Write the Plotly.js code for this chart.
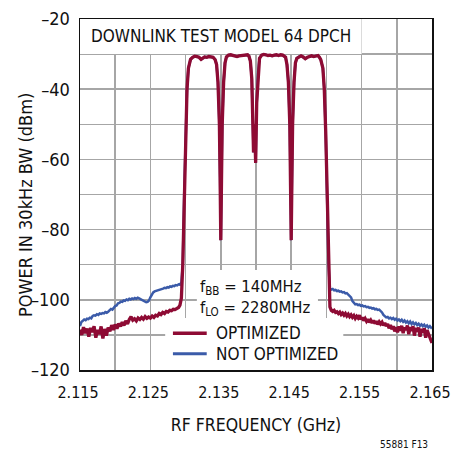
<!DOCTYPE html>
<html>
<head>
<meta charset="utf-8">
<script src="https://cdn.plot.ly/plotly-3.0.1.min.js"></script>
<style>
html,body{margin:0;padding:0;background:#fff;}
#chart{width:451px;height:452px;}
</style>
</head>
<body>
<div id="chart"></div>
<script>
// ---- Data (GHz, dBm) ----
const carrierFreq = [2.1296,2.1298,2.1300,2.1302,2.1304,2.1307,2.1310,2.1313,2.1316,2.1319,2.1322,2.1324,2.1327,2.1330,2.1333,2.1336,2.1339,2.1342,2.1344,2.1346,2.1348,2.1349,2.1350,2.1351,2.1352,2.1354,2.1356,2.1358,2.1361,2.1364,2.1367,2.1370,2.1373,2.1376,2.1379,2.1382,2.1385,2.1388,2.1390,2.1392,2.1394,2.13955,2.13965,2.1398,2.13995,2.1401,2.1403,2.1405,2.1408,2.1411,2.1414,2.1417,2.1420,2.1423,2.1426,2.1429,2.1432,2.1435,2.1438,2.1442,2.1444,2.1446,2.1448,2.1449,2.1450,2.1451,2.1452,2.1454,2.1456,2.1458,2.1461,2.1464,2.1467,2.1470,2.1473,2.1476,2.1479,2.1482,2.1485,2.1488,2.1490,2.1492,2.1495,2.1497,2.1499,2.1501,2.1503];
const carrierDbm = [-90,-70,-52,-40,-34,-31.5,-30.9,-30.6,-30.7,-30.9,-31.5,-31.2,-30.8,-30.9,-30.7,-30.8,-30.9,-31.6,-33,-38,-50,-65,-83,-66,-50,-38,-32.5,-30.8,-30.3,-30.2,-30.4,-30.6,-30.7,-30.5,-30.4,-30.3,-30.1,-30.2,-30.6,-32,-37,-46,-58,-50,-61,-44,-35,-31.2,-30.3,-30.1,-30.2,-30.4,-30.3,-30.5,-30.3,-30.2,-30.4,-30.2,-30.3,-30.9,-33,-38,-50,-65,-83,-66,-50,-38,-32.5,-31.2,-30.7,-30.5,-30.8,-31.3,-30.9,-30.6,-30.5,-30.7,-30.6,-30.4,-30.9,-31.6,-34,-40,-52,-70,-90];

const optLeftFreq = [2.1150,2.11525,2.1155,2.11575,2.1160,2.11625,2.1165,2.11675,2.1170,2.11725,2.1175,2.11775,2.1180,2.11825,2.1185,2.11875,2.1190,2.11925,2.1195,2.11975,2.1200,2.12025,2.1205,2.12075,2.1210,2.12125,2.1215,2.12175,2.1220,2.12225,2.1225,2.12275,2.1230,2.12325,2.1235,2.12375,2.1240,2.12425,2.1245,2.12475,2.1250,2.12525,2.1255,2.12575,2.1260,2.12625,2.1265,2.12675,2.1270,2.12725,2.1275,2.12775,2.1280,2.12825,2.1285,2.12875,2.1290,2.1292,2.1294];
const optLeftDbm = [-108.5,-110.0,-107.8,-109.5,-108.2,-110.5,-108.0,-109.2,-107.5,-110.8,-108.6,-109.8,-107.6,-111.0,-108.3,-110.2,-107.9,-109.0,-107.2,-108.6,-107.0,-108.2,-106.8,-107.6,-106.4,-107.3,-106.0,-106.9,-105.6,-104.8,-105.8,-105.4,-106.0,-105.2,-105.6,-105.0,-105.5,-104.8,-105.3,-104.9,-105.2,-104.6,-105.0,-104.4,-104.6,-103.9,-104.2,-103.6,-103.9,-103.3,-103.5,-103.0,-103.1,-102.7,-102.8,-102.4,-102.2,-101.5,-99.5];

const optRightFreq = [2.1505,2.1507,2.1509,2.1511,2.1513,2.1515,2.1517,2.1519,2.1521,2.1523,2.1525,2.1527,2.1529,2.1531,2.1533,2.1535,2.1537,2.1539,2.1541,2.1543,2.1545,2.1547,2.1549,2.1551,2.1553,2.1555,2.1557,2.1559,2.1561,2.1563,2.1565,2.1567,2.1569,2.1571,2.1573,2.1575,2.1577,2.1579,2.1581,2.1583,2.1585,2.1587,2.1589,2.1591,2.1593,2.1595,2.1597,2.1599,2.1601,2.1603,2.1605,2.1607,2.1609,2.1611,2.1613,2.1615,2.1617,2.1619,2.1621,2.1623,2.1625,2.1627,2.1629,2.1631,2.1633,2.1635,2.1637,2.1639,2.1641,2.1643,2.1645,2.1647,2.1649,2.1650];
const optRightDbm = [-102.0,-103.0,-103.3,-103.0,-103.6,-103.4,-103.9,-103.5,-104.2,-103.8,-104.4,-103.9,-104.6,-104.1,-104.8,-104.3,-105.0,-104.5,-105.3,-104.7,-105.2,-104.4,-105.6,-105.0,-105.9,-105.3,-106.1,-105.5,-106.4,-105.8,-106.6,-105.9,-106.8,-106.1,-107.0,-106.3,-106.9,-106.4,-107.3,-106.6,-107.5,-106.9,-108.1,-107.2,-108.4,-107.5,-109.0,-107.8,-109.3,-107.6,-108.8,-107.4,-109.5,-107.9,-108.6,-107.3,-109.8,-107.8,-108.9,-107.5,-110.2,-108.0,-109.1,-107.9,-110.5,-108.3,-109.4,-108.1,-110.8,-108.6,-109.9,-110.6,-111.8,-112.3];

const notOptLeftFreq = [2.1150,2.1152,2.1154,2.1156,2.1158,2.1160,2.1162,2.1164,2.1166,2.1168,2.1170,2.1172,2.1174,2.1176,2.1178,2.1180,2.1182,2.1184,2.1186,2.1188,2.1190,2.1192,2.1194,2.1196,2.1198,2.1200,2.1202,2.1204,2.1206,2.1208,2.1210,2.1212,2.1214,2.1216,2.1218,2.1220,2.1222,2.1224,2.1226,2.1228,2.1230,2.1232,2.1234,2.1236,2.1238,2.1240,2.1242,2.1244,2.1246,2.1248,2.1250,2.1252,2.1254,2.1256,2.1258,2.1260,2.1262,2.1264,2.1266,2.1268,2.1270,2.1272,2.1274,2.1276,2.1278,2.1280,2.1282,2.1284,2.1286,2.1288,2.1290,2.1292,2.1294];
const notOptLeftDbm = [-107.5,-106.3,-106.0,-105.6,-105.8,-105.4,-105.5,-105.1,-105.3,-104.6,-104.4,-104.5,-104.1,-104.3,-103.9,-104.0,-103.8,-103.9,-103.5,-103.7,-103.4,-103.0,-102.6,-102.8,-102.1,-101.8,-101.6,-101.0,-100.9,-100.5,-100.6,-100.2,-100.3,-99.9,-100.1,-99.7,-99.9,-99.6,-99.8,-99.5,-99.7,-99.4,-99.6,-99.8,-99.9,-100.2,-100.5,-100.7,-100.6,-100.2,-99.3,-98.4,-97.9,-97.6,-97.5,-97.3,-97.1,-97.2,-96.9,-96.8,-96.6,-96.7,-96.4,-96.5,-96.2,-96.3,-96.0,-96.1,-95.8,-95.9,-95.6,-95.7,-95.0];

const notOptRightFreq = [2.1505,2.1507,2.1509,2.1511,2.1513,2.1515,2.1517,2.1519,2.1521,2.1523,2.1525,2.1527,2.1529,2.1531,2.1533,2.1535,2.1537,2.1539,2.1541,2.1543,2.1545,2.1547,2.1549,2.1551,2.1553,2.1555,2.1557,2.1559,2.1561,2.1563,2.1565,2.1567,2.1569,2.1571,2.1573,2.1575,2.1577,2.1579,2.1581,2.1583,2.1585,2.1587,2.1589,2.1591,2.1593,2.1595,2.1597,2.1599,2.1601,2.1603,2.1605,2.1607,2.1609,2.1611,2.1613,2.1615,2.1617,2.1619,2.1621,2.1623,2.1625,2.1627,2.1629,2.1631,2.1633,2.1635,2.1637,2.1639,2.1641,2.1643,2.1645,2.1647,2.1649,2.1650];
const notOptRightDbm = [-96.8,-97.1,-96.9,-97.3,-97.2,-97.5,-97.4,-97.7,-97.6,-97.9,-97.8,-98.2,-98.1,-98.5,-98.7,-99.3,-100.4,-101.0,-101.3,-101.2,-101.5,-101.4,-101.7,-101.6,-101.9,-101.8,-102.1,-102.0,-102.3,-102.2,-102.5,-102.4,-102.7,-102.6,-102.9,-102.8,-103.2,-103.6,-104.3,-104.8,-105.0,-104.9,-105.3,-105.1,-105.5,-105.2,-105.7,-105.4,-105.9,-105.6,-106.1,-105.7,-106.3,-105.9,-106.5,-106.1,-106.7,-106.2,-106.9,-106.4,-107.0,-106.6,-107.2,-106.8,-107.4,-107.0,-107.5,-107.1,-107.7,-107.3,-107.9,-107.5,-108.0,-108.2];

const seriesNames = ["OPTIMIZED", "NOT OPTIMIZED"];
const xTickVals = [2.115, 2.125, 2.135, 2.145, 2.155, 2.165];
const xTickText = ["2.115", "2.125", "2.135", "2.145", "2.155", "2.165"];
const yTickVals = [-20, -40, -60, -80, -100, -120];
const yTickText = ["\u201320", "\u201340", "\u201360", "\u201380", "\u2013100", "\u2013120"];

// ---- Styles ----
const RED = "#8e0b34";
const BLUE = "#3b5ba9";
const FONT = "'DejaVu Sans Condensed', 'Liberation Sans Narrow', sans-serif";
const INK = "#111";

const blueTrace = {
  x: notOptLeftFreq.concat(carrierFreq, notOptRightFreq),
  y: notOptLeftDbm.concat(carrierDbm, notOptRightDbm),
  type: "scatter", mode: "lines", name: seriesNames[1],
  line: {color: BLUE, width: 2.5}, showlegend: false, hoverinfo: "skip"
};
const redTrace = {
  x: optLeftFreq.concat(carrierFreq, optRightFreq),
  y: optLeftDbm.concat(carrierDbm, optRightDbm),
  type: "scatter", mode: "lines", name: seriesNames[0],
  line: {color: RED, width: 3.3}, showlegend: false, hoverinfo: "skip"
};

const gridColor = "#a6a6a6";
const layout = {
  width: 451, height: 452,
  margin: {l: 80, r: 19, t: 19, b: 82},
  paper_bgcolor: "#fff", plot_bgcolor: "#fff",
  font: {family: FONT, size: 18, color: INK},
  showlegend: false,
  xaxis: {
    range: [2.115, 2.165], tickmode: "array", tickvals: xTickVals, ticktext: xTickText,
    ticklabeloverflow: "allow", ticklabelshift: -2,
    showgrid: true, gridcolor: gridColor, gridwidth: 1.5,
    minor: {tickmode: "array", tickvals: [2.12, 2.13, 2.14, 2.15, 2.16], showgrid: true, gridcolor: gridColor, gridwidth: 1.5, ticks: ""},
    showline: true, linecolor: INK, linewidth: 1.5, mirror: true,
    ticks: "", ticklabelstandoff: 7, zeroline: false,
    tickfont: {family: FONT, size: 16, color: INK},
    title: {text: "RF FREQUENCY (GHz)", font: {family: FONT, size: 17.5, color: INK}, standoff: 18}
  },
  yaxis: {
    range: [-120, -20], tickmode: "array", tickvals: yTickVals, ticktext: yTickText,
    showgrid: true, gridcolor: gridColor, gridwidth: 1.5,
    minor: {tickmode: "array", tickvals: [-30, -50, -70, -90, -110], showgrid: true, gridcolor: gridColor, gridwidth: 1.5, ticks: ""},
    showline: true, linecolor: INK, linewidth: 1.5, mirror: true,
    ticks: "", ticklabelstandoff: 5, zeroline: false,
    tickfont: {family: FONT, size: 18, color: INK}
  },
  shapes: [
    {type: "rect", layer: "between", xref: "x", yref: "y", x0: 2.115, x1: 2.155, y0: -30, y1: -20, fillcolor: "#fff", line: {width: 0}},
    {type: "rect", layer: "between", xref: "x", yref: "y", x0: 2.1316, x1: 2.1488, y0: -105.2, y1: -91.5, fillcolor: "#fff", line: {width: 0}},
    {type: "rect", layer: "between", xref: "x", yref: "y", x0: 2.1271, x1: 2.1524, y0: -120, y1: -105.2, fillcolor: "#fff", line: {width: 0}},
    {type: "line", layer: "above", xref: "x", yref: "y", x0: 2.1282, x1: 2.1330, y0: -109.5, y1: -109.5, line: {color: RED, width: 3.5}},
    {type: "line", layer: "above", xref: "x", yref: "y", x0: 2.1282, x1: 2.1330, y0: -115.4, y1: -115.4, line: {color: BLUE, width: 3}}
  ],
  annotations: [
    {xref: "paper", yref: "paper", x: 0.026, y: 0.951, xanchor: "left", yanchor: "middle", showarrow: false,
     text: "DOWNLINK TEST MODEL 64 DPCH", font: {family: FONT, size: 17, color: INK}},
    {xref: "x", yref: "y", x: 2.1317, y: -96.6, xanchor: "left", yanchor: "middle", showarrow: false,
     text: "f<sub>BB</sub> = 140MHz", font: {family: FONT, size: 16.5, color: INK}},
    {xref: "x", yref: "y", x: 2.1317, y: -102.5, xanchor: "left", yanchor: "middle", showarrow: false,
     text: "f<sub>LO</sub> = 2280MHz", font: {family: FONT, size: 16.5, color: INK}},
    {xref: "x", yref: "y", x: 2.1341, y: -109.5, xanchor: "left", yanchor: "middle", showarrow: false,
     text: seriesNames[0], font: {family: FONT, size: 17, color: INK}},
    {xref: "x", yref: "y", x: 2.1341, y: -115.5, xanchor: "left", yanchor: "middle", showarrow: false,
     text: seriesNames[1], font: {family: FONT, size: 17, color: INK}},
    {xref: "paper", yref: "paper", x: -0.156, y: 0.47, xanchor: "center", yanchor: "middle", showarrow: false, textangle: -90,
     text: "POWER IN 30kHz BW (dBm)", font: {family: FONT, size: 18, color: INK}},
    {xref: "paper", yref: "paper", x: 0.994, y: -0.212, xanchor: "right", yanchor: "middle", showarrow: false,
     text: "55881 F13", font: {family: FONT, size: 10, color: INK}}
  ]
};

Plotly.newPlot("chart", [blueTrace, redTrace], layout, {staticPlot: true, displayModeBar: false});
</script>
</body>
</html>
